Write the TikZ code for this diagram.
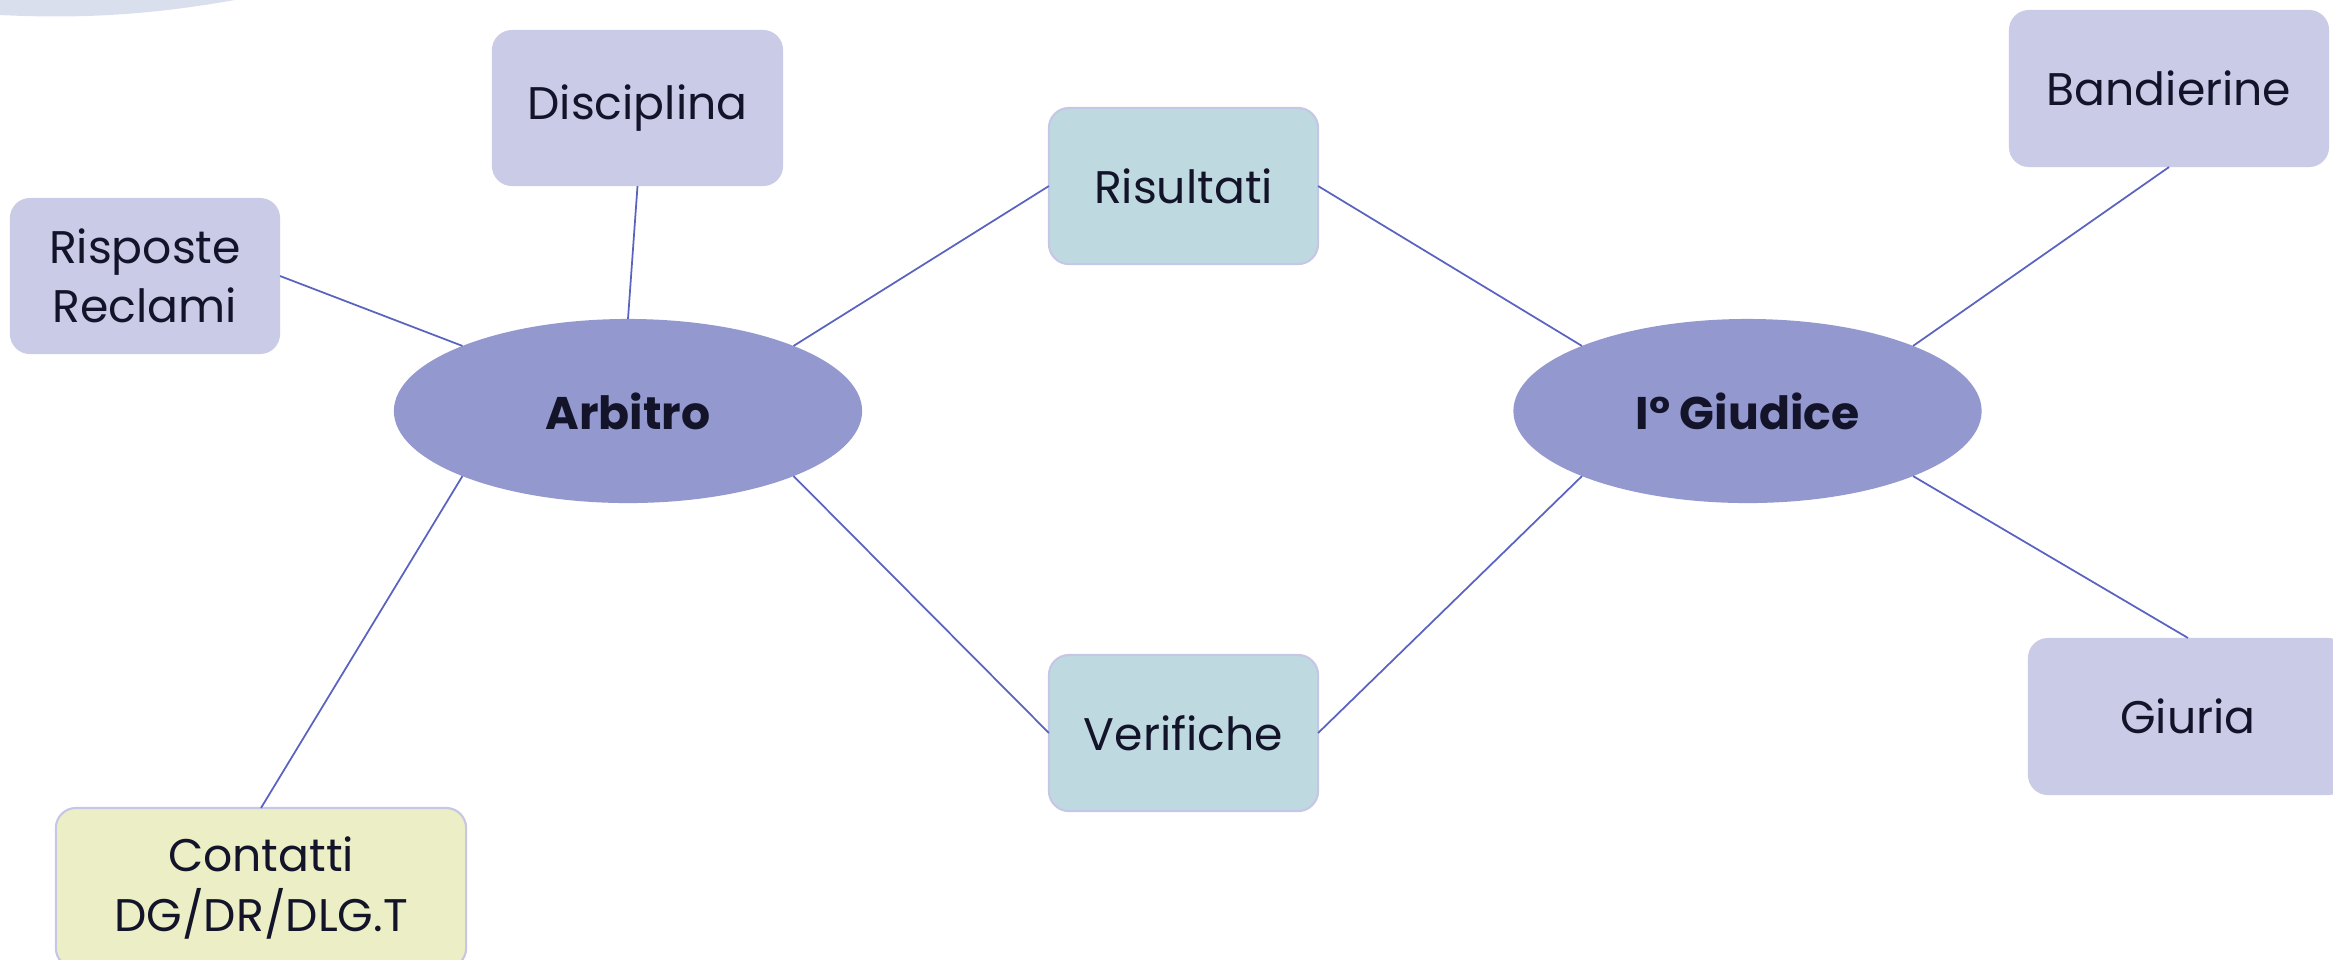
\documentclass[tikz,border=0pt]{standalone}
\usepackage{fontspec}
\setmainfont{Poppins}
\usetikzlibrary{shapes.geometric}
\definecolor{lavbox}{HTML}{CACBE7}
\definecolor{tealbox}{HTML}{BEDAE0}
\definecolor{limebox}{HTML}{ECEFC5}
\definecolor{edgebox}{HTML}{C6C6E6}
\definecolor{hubfill}{HTML}{9398CF}
\definecolor{linkblue}{HTML}{5B63C0}
\definecolor{ink}{HTML}{13142A}
\definecolor{wave}{HTML}{DADFEE}
\tikzset{
  box/.style={rounded corners=0.2cm, minimum width=2.69cm, minimum height=1.56cm,
    align=center, text=ink, font=\fontsize{13}{16.8}\selectfont, inner sep=0pt, outer sep=0pt},
  lavbox/.style={box, fill=lavbox},
  tealbox/.style={box, fill=tealbox, draw=edgebox, line width=0.6pt},
  limebox/.style={box, fill=limebox, draw=edgebox, line width=0.6pt},
  hub/.style={ellipse, fill=hubfill, minimum width=4.68cm, minimum height=1.84cm,
    inner sep=0pt, outer sep=0pt, text=ink, font=\bfseries\fontsize{13}{16.8}\selectfont},
  link/.style={draw=linkblue, line width=0.5pt}
}
\begin{document}
\begin{tikzpicture}[x=0.01cm, y=-0.01cm]
\useasboundingbox (0,0) rectangle (2333,959);
\fill[wave] (0,-5) -- (0,15) .. controls (80,19) and (150,15) .. (235,0) -- (235,-5) -- cycle;
\node[hub] (arbitro) at (628,411) {Arbitro};
\node[hub] (giudice) at (1747.5,411) {I° Giudice};
\node[lavbox, minimum width=2.91cm] (disciplina) at (637.5,108) {\raisebox{-4pt}{Disciplina}};
\node[lavbox, minimum width=2.70cm] (risposte) at (145,276) {Risposte\\Reclami};
\node[tealbox] (risultati) at (1183.5,186) {Risultati};
\node[tealbox] (verifiche) at (1183.5,733) {Verifiche};
\node[limebox, minimum width=4.10cm, minimum height=1.60cm] (contatti) at (261,888) {Contatti\\DG/DR/DLG.T};
\node[lavbox, minimum width=3.20cm, minimum height=1.57cm] (bandierine) at (2169,88.5) {Bandierine};
\node[lavbox, minimum width=3.20cm, minimum height=1.57cm] (giuria) at (2188,716.5) {\raisebox{-6pt}{Giuria}};
\draw[link] (arbitro.north) -- (disciplina.south);
\draw[link] (arbitro.north west) -- (risposte.east);
\draw[link] (arbitro.south west) -- (contatti.north);
\draw[link] (arbitro.north east) -- (risultati.west);
\draw[link] (arbitro.south east) -- (verifiche.west);
\draw[link] (giudice.north west) -- (risultati.east);
\draw[link] (giudice.south west) -- (verifiche.east);
\draw[link] (giudice.north east) -- (bandierine.south);
\draw[link] (giudice.south east) -- (giuria.north);
\end{tikzpicture}
\end{document}
